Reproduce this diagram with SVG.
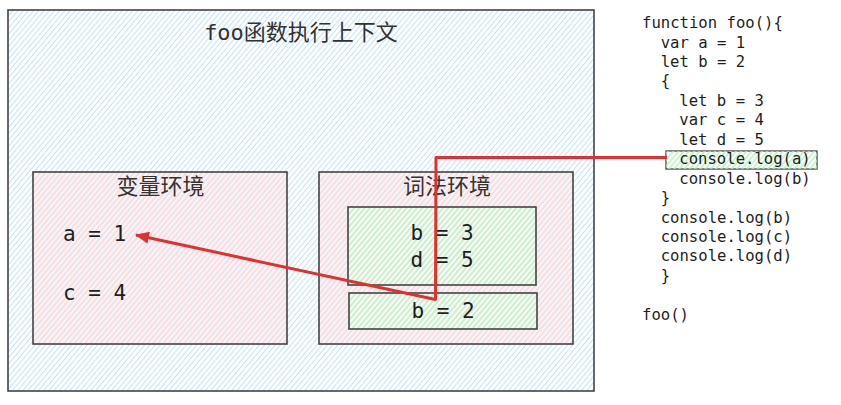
<svg xmlns="http://www.w3.org/2000/svg" width="841" height="405" viewBox="0 0 841 405">
<style>
.box{stroke:#444;stroke-width:1.6;}
.title{font-family:"DejaVu Sans Mono","Noto Sans CJK SC",monospace;font-size:22px;fill:#333;text-anchor:middle;}
.cjk{font-family:"Noto Sans CJK SC",sans-serif;font-size:22px;fill:#333;text-anchor:middle;}
.val{font-family:"DejaVu Sans Mono",monospace;font-size:21px;fill:#1e1e1e;white-space:pre;}
.code{font-family:"DejaVu Sans Mono",monospace;font-size:15.6px;fill:#1e1e1e;}
.conn{stroke:#e03131;stroke-width:3;fill:none;stroke-linejoin:round;}
</style>
<defs>
<pattern id="hb" width="4" height="4" patternUnits="userSpaceOnUse" patternTransform="rotate(40)">
<line x1="0" y1="0" x2="0" y2="4" stroke="#a5d8ff" stroke-width="1.4"/>
</pattern>
<pattern id="hp" width="4" height="4" patternUnits="userSpaceOnUse" patternTransform="rotate(40)">
<line x1="2" y1="0" x2="2" y2="4" stroke="#ffc9c9" stroke-width="1.3"/>
</pattern>
<pattern id="hg" width="4" height="4" patternUnits="userSpaceOnUse" patternTransform="rotate(40)">
<line x1="1" y1="0" x2="1" y2="4" stroke="#b2f2bb" stroke-width="1.4"/>
</pattern>
<marker id="ah" markerWidth="14" markerHeight="12" refX="13" refY="6" orient="auto" markerUnits="userSpaceOnUse">
<path d="M0,0 L14,6 L0,12 Z" fill="#e03131"/>
</marker>
</defs>
<rect width="841" height="405" fill="#fff"/>

<g id="context">
<rect class="box" x="8" y="10" width="586" height="381" fill="url(#hb)"/>
<text class="title" x="301" y="40">foo函数执行上下文</text>
</g>

<g id="var-env">
<rect x="33" y="172" width="254" height="172" fill="#fff" opacity="0.45"/>
<rect class="box" x="33" y="172" width="254" height="172" fill="url(#hp)"/>
<text class="cjk" x="160.5" y="194">变量环境</text>
<text class="val" x="63" y="241">a = 1</text>
<text class="val" x="63" y="300">c = 4</text>
</g>

<g id="lex-env">
<rect x="319" y="172" width="254" height="172" fill="#fff" opacity="0.45"/>
<rect class="box" x="319" y="172" width="254" height="172" fill="url(#hp)"/>
<text class="cjk" x="447" y="194">词法环境</text>
</g>

<g id="block-scope">
<rect x="348" y="207" width="188" height="78" fill="#fff" opacity="0.5"/>
<rect class="box" x="348" y="207" width="188" height="78" fill="url(#hg)"/>
<text class="val" x="442" y="240" text-anchor="middle">b = 3</text>
<text class="val" x="442" y="267" text-anchor="middle">d = 5</text>
</g>

<g id="func-scope">
<rect x="349" y="293" width="188" height="36" fill="#fff" opacity="0.5"/>
<rect class="box" x="349" y="293" width="188" height="36" fill="url(#hg)"/>
<text class="val" x="443" y="318" text-anchor="middle">b = 2</text>
</g>

<g id="highlight">
<rect x="666" y="151" width="151" height="18" fill="#fff" stroke="#333" stroke-width="1.2"/>
<rect x="666" y="151" width="151" height="18" fill="url(#hg)"/>
</g>

<g id="code">
<text class="code">
<tspan x="642" y="28">function foo(){</tspan>
<tspan x="660.7" y="47.5">var a = 1</tspan>
<tspan x="660.7" y="66.9">let b = 2</tspan>
<tspan x="660.7" y="86.4">{</tspan>
<tspan x="679.3" y="105.8">let b = 3</tspan>
<tspan x="679.3" y="125.3">var c = 4</tspan>
<tspan x="679.3" y="144.7">let d = 5</tspan>
<tspan x="679.3" y="164.2">console.log(a)</tspan>
<tspan x="679.3" y="183.6">console.log(b)</tspan>
<tspan x="660.7" y="203.1">}</tspan>
<tspan x="660.7" y="222.5">console.log(b)</tspan>
<tspan x="660.7" y="242">console.log(c)</tspan>
<tspan x="660.7" y="261.4">console.log(d)</tspan>
<tspan x="660.7" y="280.9">}</tspan>
<tspan x="642" y="319.8">foo()</tspan>
</text>
</g>

<g id="connectors">
<polyline class="conn" points="667,157.5 436,157.5 435.5,299.5 136,235" marker-end="url(#ah)"/>
</g>
</svg>
